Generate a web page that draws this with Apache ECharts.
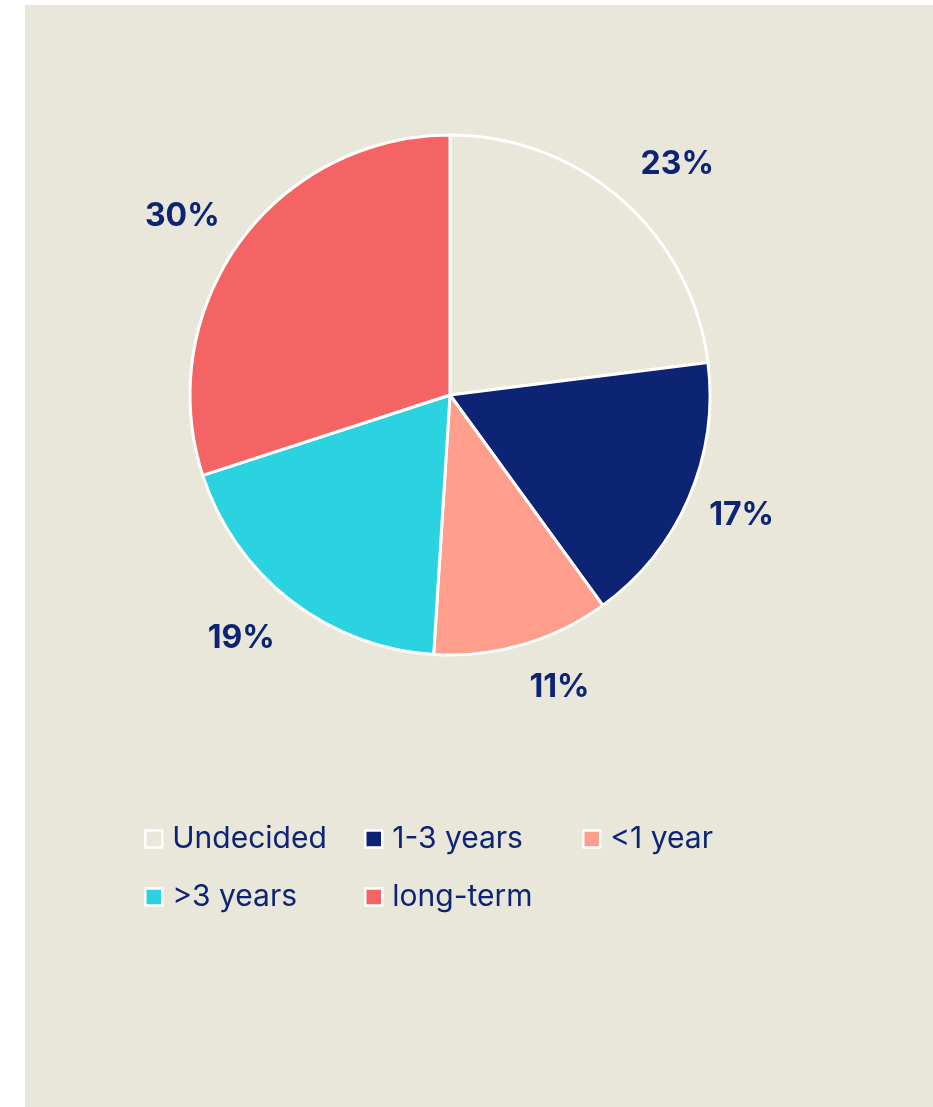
<!DOCTYPE html>
<html>
<head>
<meta charset="utf-8">
<script src="https://cdn.jsdelivr.net/npm/echarts@6/dist/echarts.min.js"></script>
<style>
    html, body { margin: 0; padding: 0; background: #ffffff; }
    #chart {
        position: absolute;
        left: 25px;
        top: 5px;
        width: 908px;
        height: 1102px;
        background: #e9e6da;
    }
</style>
</head>
<body>
<div id="chart"></div>
<script>
// data
var categories = ['Undecided', '1-3 years', '<1 year', '>3 years', 'long-term'];
var shares = [23, 17, 11, 19, 30];
var colors = ['#e9e6da', '#0d2474', '#ff9e8c', '#2bd3e0', '#f56464'];

var navy = '#0d2474';
var font = 'Inter, "Noto Sans", sans-serif';

// small nudges so the percentages sit where the original puts them
var labelOffsets = [[15, 10], [-3, -7], [20, -16], [-12, -10], [-8, 10]];

var pieData = categories.map(function (name, i) {
    return { name: name, value: shares[i], itemStyle: { color: colors[i] } };
});

// legend placed as a grid, one legend per item
var legendPos = [
    { left: 114, top: 814 },
    { left: 334, top: 814 },
    { left: 552, top: 814 },
    { left: 114, top: 872 },
    { left: 334, top: 872 }
];
var legends = categories.map(function (name, i) {
    return {
        data: [name],
        left: legendPos[i].left,
        top: legendPos[i].top,
        icon: 'rect',
        itemWidth: 17,
        itemHeight: 17,
        itemGap: 10,
        selectedMode: false,
        itemStyle: { borderColor: '#ffffff', borderWidth: 2.5 },
        textStyle: { color: navy, fontSize: 30, fontFamily: font, padding: [0, 0, 0, 5] }
    };
});

var myChart = echarts.init(document.getElementById('chart'));
myChart.setOption({
    animation: false,
    legend: legends,
    series: [
        {
            name: 'share',
            type: 'pie',
            center: [425, 390],
            radius: [0, 260],
            startAngle: 90,
            clockwise: true,
            silent: true,
            itemStyle: { borderColor: '#ffffff', borderWidth: 3 },
            label: { show: false },
            labelLine: { show: false },
            data: pieData
        },
        {
            // transparent ring carrying the percentage labels
            name: 'labels',
            type: 'pie',
            center: [425, 390],
            radius: [298, 338],
            startAngle: 90,
            clockwise: true,
            silent: true,
            itemStyle: { color: 'rgba(0,0,0,0)', borderWidth: 0 },
            label: {
                show: true,
                position: 'inside',
                formatter: '{c}%',
                color: navy,
                fontSize: 32,
                fontWeight: 'bold',
                fontFamily: font
            },
            labelLine: { show: false },
            data: categories.map(function (name, i) {
                return { name: name, value: shares[i], label: { offset: labelOffsets[i] } };
            })
        }
    ]
});
</script>
</body>
</html>
